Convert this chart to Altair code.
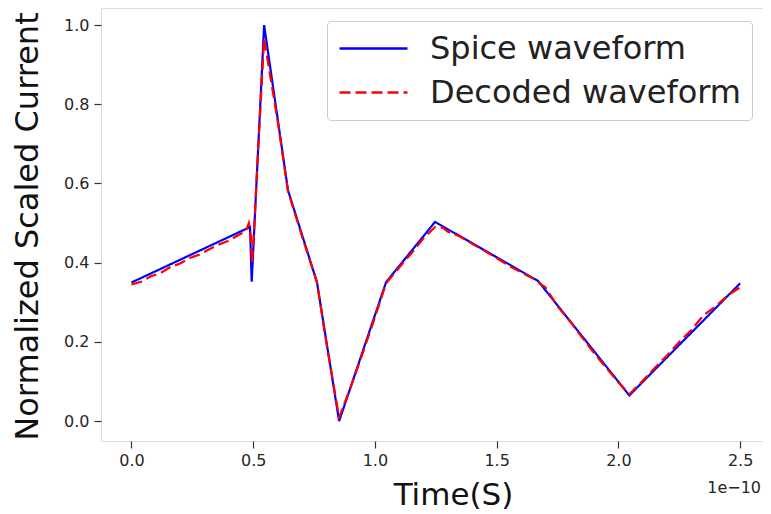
import altair as alt
import pandas as pd

# x in units of 1e-10 s
series_names = ["Spice waveform", "Decoded waveform"]
series_colors = ["#0000ff", "#ff0000"]

spice_t = [0.0, 0.487, 0.494, 0.545, 0.643, 0.762, 0.853, 1.046, 1.247, 1.67, 2.045, 2.5]
spice_v = [0.35, 0.49, 0.352, 1.0, 0.583, 0.351, 0.0, 0.351, 0.503, 0.354, 0.065, 0.348]

dec_t = [0.0, 0.04, 0.08, 0.12, 0.16, 0.2, 0.24, 0.28, 0.32, 0.36, 0.4, 0.44, 0.47, 0.482,
         0.49, 0.495, 0.5, 0.52, 0.545, 0.6, 0.643, 0.7, 0.762, 0.8, 0.853, 0.9, 0.95, 1.0,
         1.046, 1.1, 1.15, 1.2, 1.247, 1.28, 1.3, 1.35, 1.4, 1.45, 1.5, 1.55, 1.6, 1.65, 1.7,
         1.75, 1.8, 1.85, 1.9, 1.95, 2.0, 2.045, 2.1, 2.15, 2.2, 2.25, 2.3, 2.35, 2.4, 2.45, 2.5]
dec_v = [0.345, 0.352, 0.366, 0.374, 0.389, 0.398, 0.412, 0.421, 0.434, 0.446, 0.456, 0.470,
         0.480, 0.500, 0.470, 0.400, 0.440, 0.680, 0.965, 0.760, 0.580, 0.468, 0.350, 0.200,
         0.010, 0.085, 0.172, 0.262, 0.348, 0.388, 0.424, 0.462, 0.490, 0.488, 0.478, 0.466,
         0.448, 0.430, 0.412, 0.392, 0.376, 0.360, 0.338, 0.290, 0.253, 0.212, 0.172, 0.135,
         0.098, 0.068, 0.102, 0.135, 0.166, 0.200, 0.230, 0.268, 0.290, 0.318, 0.338]

offset_label = ["1e\u221210"]

x_ticks = [0.0, 0.5, 1.0, 1.5, 2.0, 2.5]
y_ticks = [0.0, 0.2, 0.4, 0.6, 0.8, 1.0]

df_s = pd.DataFrame({"t": spice_t, "v": spice_v, "series": series_names[0]})
df_d = pd.DataFrame({"t": dec_t, "v": dec_v, "series": series_names[1]})

FONT = "DejaVu Sans"
W, H = 662, 433

x_enc = alt.X(
    "t:Q",
    scale=alt.Scale(domain=[-0.125, 2.594], nice=False, zero=False),
    axis=alt.Axis(
        values=x_ticks, format=".1f", title="Time(S)", grid=False, domain=False,
        tickSize=7, tickColor="#333", tickWidth=1.2,
        labelFont=FONT, labelFontSize=16, labelColor="#262626", labelPadding=4,
        titleFont=FONT, titleFontSize=31, titleFontWeight="normal", titleColor="#111",
        titleBaseline="alphabetic", titleY=63, titleX=352, titleAlign="center",
    ),
)
y_enc = alt.Y(
    "v:Q",
    scale=alt.Scale(domain=[-0.05, 1.043], nice=False, zero=False),
    axis=alt.Axis(
        values=y_ticks, format=".1f", title="Normalized Scaled Current", grid=False, domain=False,
        tickSize=7, tickColor="#333", tickWidth=1.2,
        labelFont=FONT, labelFontSize=16, labelColor="#262626", labelPadding=5,
        titleFont=FONT, titleFontSize=32, titleFontWeight="normal", titleColor="#111",
        titleBaseline="alphabetic", titleX=-64, titleY=218, titleAngle=-90,
    ),
)

legend_kw = dict(
    title=None, orient="none", legendX=226, legendY=13,
    labelFont=FONT, labelFontSize=32, labelColor="#222", labelOffset=59, labelLimit=0,
    symbolType="M-1,0H3.533", symbolSize=900, symbolStrokeWidth=2.5,
    padding=11, rowPadding=11,
    strokeColor="#cccccc", fillColor="white", cornerRadius=4,
)

color_enc = alt.Color(
    "series:N",
    scale=alt.Scale(domain=series_names, range=series_colors),
    legend=alt.Legend(**legend_kw),
)
dash_enc = alt.StrokeDash(
    "series:N",
    scale=alt.Scale(domain=series_names, range=[[1, 0], [11, 5]]),
    legend=alt.Legend(**legend_kw),
)

spice = alt.Chart(df_s).mark_line(strokeWidth=2.2).encode(
    x=x_enc, y=y_enc, color=color_enc, strokeDash=dash_enc
)
decoded = alt.Chart(df_d).mark_line(strokeWidth=2.2).encode(
    x=x_enc, y=y_enc, color=color_enc, strokeDash=dash_enc
)

offset_text = alt.Chart(pd.DataFrame({"label": offset_label})).mark_text(
    font=FONT, fontSize=16, color="#262626", align="right", baseline="alphabetic"
).encode(x=alt.value(W - 2), y=alt.value(H + 52), text="label:N")

chart = alt.layer(spice, decoded, offset_text).properties(
    width=W, height=H,
    autosize=alt.AutoSizeParams(type="none"),
    padding={"left": 93, "top": 0, "right": 0, "bottom": 80},
).configure_view(
    stroke="#333", strokeWidth=1.3
).configure(background="white")

chart.save("out.html", embed_options={"renderer": "svg", "actions": False})
